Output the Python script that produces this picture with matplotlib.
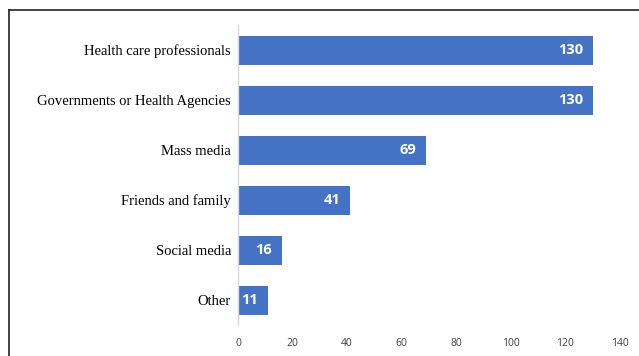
"""Horizontal bar chart: sources of information (counts)."""

import matplotlib
matplotlib.use("Agg")
import matplotlib.pyplot as plt
from matplotlib.lines import Line2D

categories = [
    "Health care professionals",
    "Governments or Health Agencies",
    "Mass media",
    "Friends and family",
    "Social media",
    "Other",
]
counts = [130, 130, 69, 41, 16, 11]
x_ticks = [0, 20, 40, 60, 80, 100, 120, 140]

BAR_COLOR = "#4472C4"

fig = plt.figure(figsize=(6.39, 3.56), dpi=100)
ax = fig.add_axes([238 / 639, 1 - 325 / 356, (620 - 238) / 639, 300 / 356])

pos = list(range(len(categories)))
ax.barh(pos, counts, height=0.58, color=BAR_COLOR)
ax.set_ylim(len(categories) - 0.5, -0.5)
ax.set_xlim(0, 140)

for y, v in zip(pos, counts):
    ax.annotate(
        str(v), (v, y), xytext=(-7, 0), textcoords="offset points",
        ha="right", va="center", color="white", fontsize=10.5,
        fontweight="bold", family="Open Sans",
    )

ax.set_yticks(pos)
ax.set_yticklabels(categories, family="Liberation Serif", fontsize=10.5)
ax.set_xticks(x_ticks)
ax.set_xticklabels([str(t) for t in x_ticks], family="Open Sans", fontsize=7.5,
                   color="#404040")
ax.tick_params(axis="both", length=0)
ax.tick_params(axis="y", pad=5)
ax.tick_params(axis="x", pad=9)

for side in ("top", "right", "bottom"):
    ax.spines[side].set_visible(False)
ax.spines["left"].set_color("#d9d9d9")
ax.spines["left"].set_linewidth(1.0)

# outer frame (only the left and top edges fall inside the picture)
fig.add_artist(Line2D([8.5 / 639, 8.5 / 639], [0, 1 - 9.5 / 356],
                      transform=fig.transFigure, color="#222222", lw=1.2))
fig.add_artist(Line2D([8.5 / 639, 1], [1 - 9.5 / 356, 1 - 9.5 / 356],
                      transform=fig.transFigure, color="#222222", lw=1.2))

fig.savefig("out.png", dpi=100)
